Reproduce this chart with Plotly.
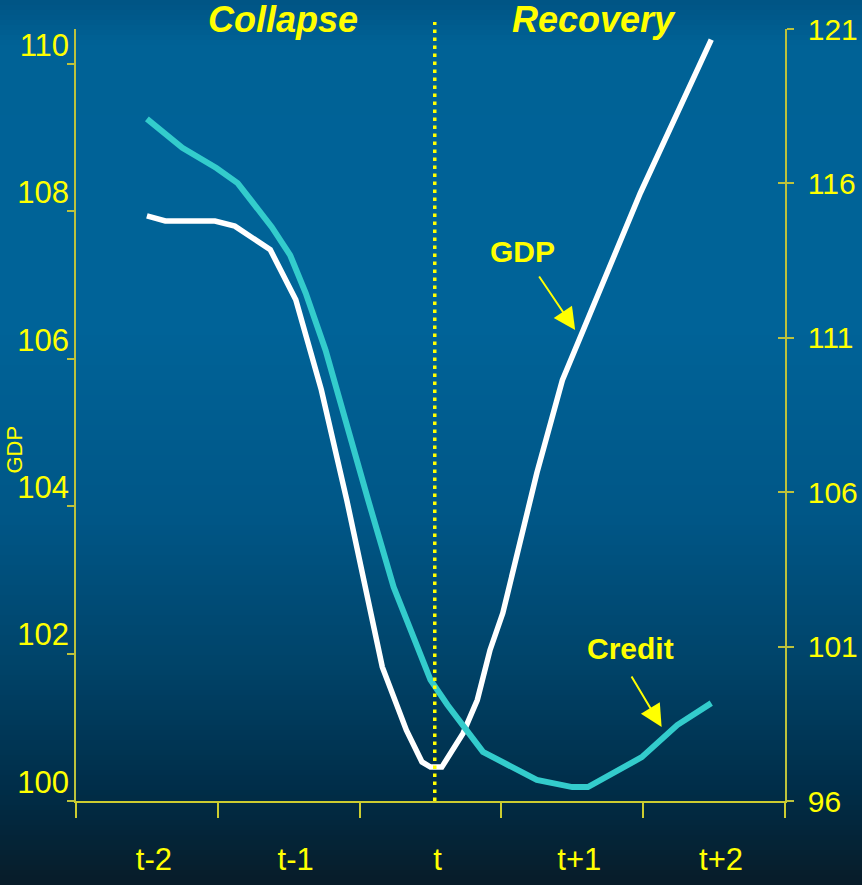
import plotly.graph_objects as go

# ---------------- data ----------------
periods = ["t-2", "t-1", "t", "t+1", "t+2"]
period_pos = [0, 1, 2, 3, 4]
event_x = 2.03  # period "t" marker line

gdp_x = [0.00, 0.13, 0.48, 0.62, 0.87, 1.05, 1.23, 1.41, 1.66, 1.83, 1.94, 2.00,
         2.08, 2.23, 2.33, 2.42, 2.51, 2.75, 2.93, 3.08, 3.48, 3.98]
gdp_y = [107.94, 107.87, 107.87, 107.80, 107.48, 106.80, 105.58, 104.08, 101.82,
         100.96, 100.53, 100.46, 100.46, 100.92, 101.37, 102.05, 102.55, 104.45,
         105.71, 106.39, 108.25, 110.33]

credit_x = [0.00, 0.25, 0.49, 0.64, 0.88, 1.01, 1.12, 1.26, 1.56, 1.74, 2.00, 2.12,
            2.37, 2.51, 2.75, 3.00, 3.11, 3.49, 3.74, 3.98]
credit_y = [118.09, 117.15, 116.50, 116.01, 114.59, 113.68, 112.45, 110.60, 105.75,
            102.93, 99.92, 99.11, 97.59, 97.26, 96.68, 96.45, 96.45, 97.42, 98.46, 99.17]

gdp_ticks = [100, 102, 104, 106, 108, 110]
credit_ticks = [96, 101, 106, 111, 116, 121]

# ---------------- layout geometry ----------------
W, H = 862, 885
L, R, T, B = 76, 785, 29, 801
YEL = "#ffff00"
AXC = "#bcc23c"
FONT = "Liberation Sans, Arial, sans-serif"


def py2paper(py):
    return (B - py) / (B - T)


def px2paper(px):
    return (px - L) / (R - L)


fig = go.Figure()
fig.add_trace(go.Scatter(x=gdp_x, y=gdp_y, mode="lines", name="GDP",
                         line=dict(color="#ffffff", width=5.5), yaxis="y"))
fig.add_trace(go.Scatter(x=credit_x, y=credit_y, mode="lines", name="Credit",
                         line=dict(color="#33cccc", width=6), yaxis="y2"))
fig.add_trace(go.Scatter(x=[], y=[], yaxis="y3", showlegend=False, hoverinfo="skip"))

# background gradient as strips
stops = [(0, (0, 84, 132)), (45, (0, 98, 150)), (330, (0, 99, 152)),
         (520, (0, 86, 134)), (660, (0, 68, 106)), (790, (0, 45, 72)), (885, (8, 28, 40))]


def grad(py):
    for (a, ca), (b, cb) in zip(stops[:-1], stops[1:]):
        if a <= py <= b:
            t = (py - a) / (b - a)
            return tuple(int(round(ca[i] + (cb[i] - ca[i]) * t)) for i in range(3))
    return stops[-1][1]


shapes = []
step = 5
for py in range(0, H, step):
    c = grad(py + step / 2)
    shapes.append(dict(type="rect", xref="paper", yref="paper",
                       x0=px2paper(-5), x1=px2paper(W + 5),
                       y0=py2paper(py + step + 0.5), y1=py2paper(py),
                       fillcolor="rgb(%d,%d,%d)" % c, line=dict(width=0), layer="below"))

shapes.append(dict(type="line", xref="x", yref="paper", x0=event_x, x1=event_x,
                   y0=0, y1=py2paper(22), line=dict(color=YEL, width=3.5, dash="3.5px,4.5px"),
                   layer="above"))

annotations = [
    dict(text="<b><i>Collapse</i></b>", x=0.96, xref="x", y=py2paper(20), yref="paper",
         xanchor="center", yanchor="middle",
         showarrow=False, font=dict(size=36, color=YEL, family=FONT)),
    dict(text="<b><i>Recovery</i></b>", x=3.15, xref="x", y=py2paper(20), yref="paper",
         xanchor="center", yanchor="middle",
         showarrow=False, font=dict(size=36, color=YEL, family=FONT)),
    dict(text="<b>GDP</b>", x=2.65, xref="x", y=107.45, yref="y",
         xanchor="center", yanchor="middle",
         showarrow=False, font=dict(size=30, color=YEL, family=FONT)),
    dict(text="<b>Credit</b>", x=3.41, xref="x", y=100.95, yref="y2",
         xanchor="center", yanchor="middle",
         showarrow=False, font=dict(size=30, color=YEL, family=FONT)),
    dict(text="", x=3.02, xref="x", y=106.39, yref="y", ax=-37, ay=-55,
         showarrow=True, arrowhead=2, arrowsize=2.2, arrowwidth=2, arrowcolor=YEL),
    dict(text="", x=3.63, xref="x", y=98.40, yref="y2", ax=-31, ay=-52,
         showarrow=True, arrowhead=2, arrowsize=2.2, arrowwidth=2, arrowcolor=YEL),
    dict(text="GDP", textangle=-90, x=px2paper(0), xref="paper", y=py2paper(450),
         yref="paper", xanchor="left", yanchor="middle",
         showarrow=False, font=dict(size=22, color=YEL, family=FONT)),
]

fig.update_layout(
    template="none",
    width=W, height=H, autosize=False,
    margin=dict(l=L, r=W - R, t=T, b=H - B, pad=0, autoexpand=False),
    paper_bgcolor="rgb(8,28,40)", plot_bgcolor="rgba(0,0,0,0)",
    showlegend=False,
    font=dict(family=FONT, color=YEL),
    shapes=shapes, annotations=annotations,
    xaxis=dict(range=[-0.5, 4.5], tickmode="array", tickvals=period_pos, ticktext=periods,
               ticks="", showline=True, linecolor="#cccc30", linewidth=1.5,
               showgrid=False, zeroline=False, automargin=False,
               tickfont=dict(size=31, color=YEL, family=FONT),
               ticklabelstandoff=30, ticklabelshift=7,
               minor=dict(tickmode="array", tickvals=[p - 0.5 for p in period_pos] + [4.5],
                          ticks="outside", ticklen=15, tickwidth=1.5, tickcolor="#cccc30",
                          showgrid=False)),
    yaxis=dict(range=[100, 110.475], tickmode="array", tickvals=gdp_ticks,
               ticks="outside", ticklen=7, tickwidth=1.5, tickcolor=AXC,
               showline=True, linecolor=AXC, linewidth=1.5,
               showgrid=False, zeroline=False, automargin=False,
               tickfont=dict(size=31, color=YEL, family=FONT),
               ticklabelshift=-19, ticklabelstandoff=-8),
    yaxis2=dict(range=[96, 121], overlaying="y", side="right", tickmode="array",
                tickvals=credit_ticks, ticks="outside", ticklen=7, tickwidth=1.5,
                tickcolor=AXC, showline=True, linecolor=AXC, linewidth=1.5,
                showgrid=False, zeroline=False, automargin=False,
                tickfont=dict(size=30, color=YEL, family=FONT), ticklabelstandoff=8),
    yaxis3=dict(range=[96, 121], overlaying="y", side="right", tickmode="array",
                tickvals=credit_ticks, ticks="inside", ticklen=7, tickwidth=1.5,
                tickcolor=AXC, showline=False, showticklabels=False,
                showgrid=False, zeroline=False, automargin=False),
)

post = """
document.documentElement.style.overflow='hidden';
document.body.style.margin='0';
document.body.style.overflow='hidden';
document.body.style.background='rgb(8,28,40)';
"""

fig.write_html("out.html",
               config={"responsive": False, "displayModeBar": False},
               post_script=post)
